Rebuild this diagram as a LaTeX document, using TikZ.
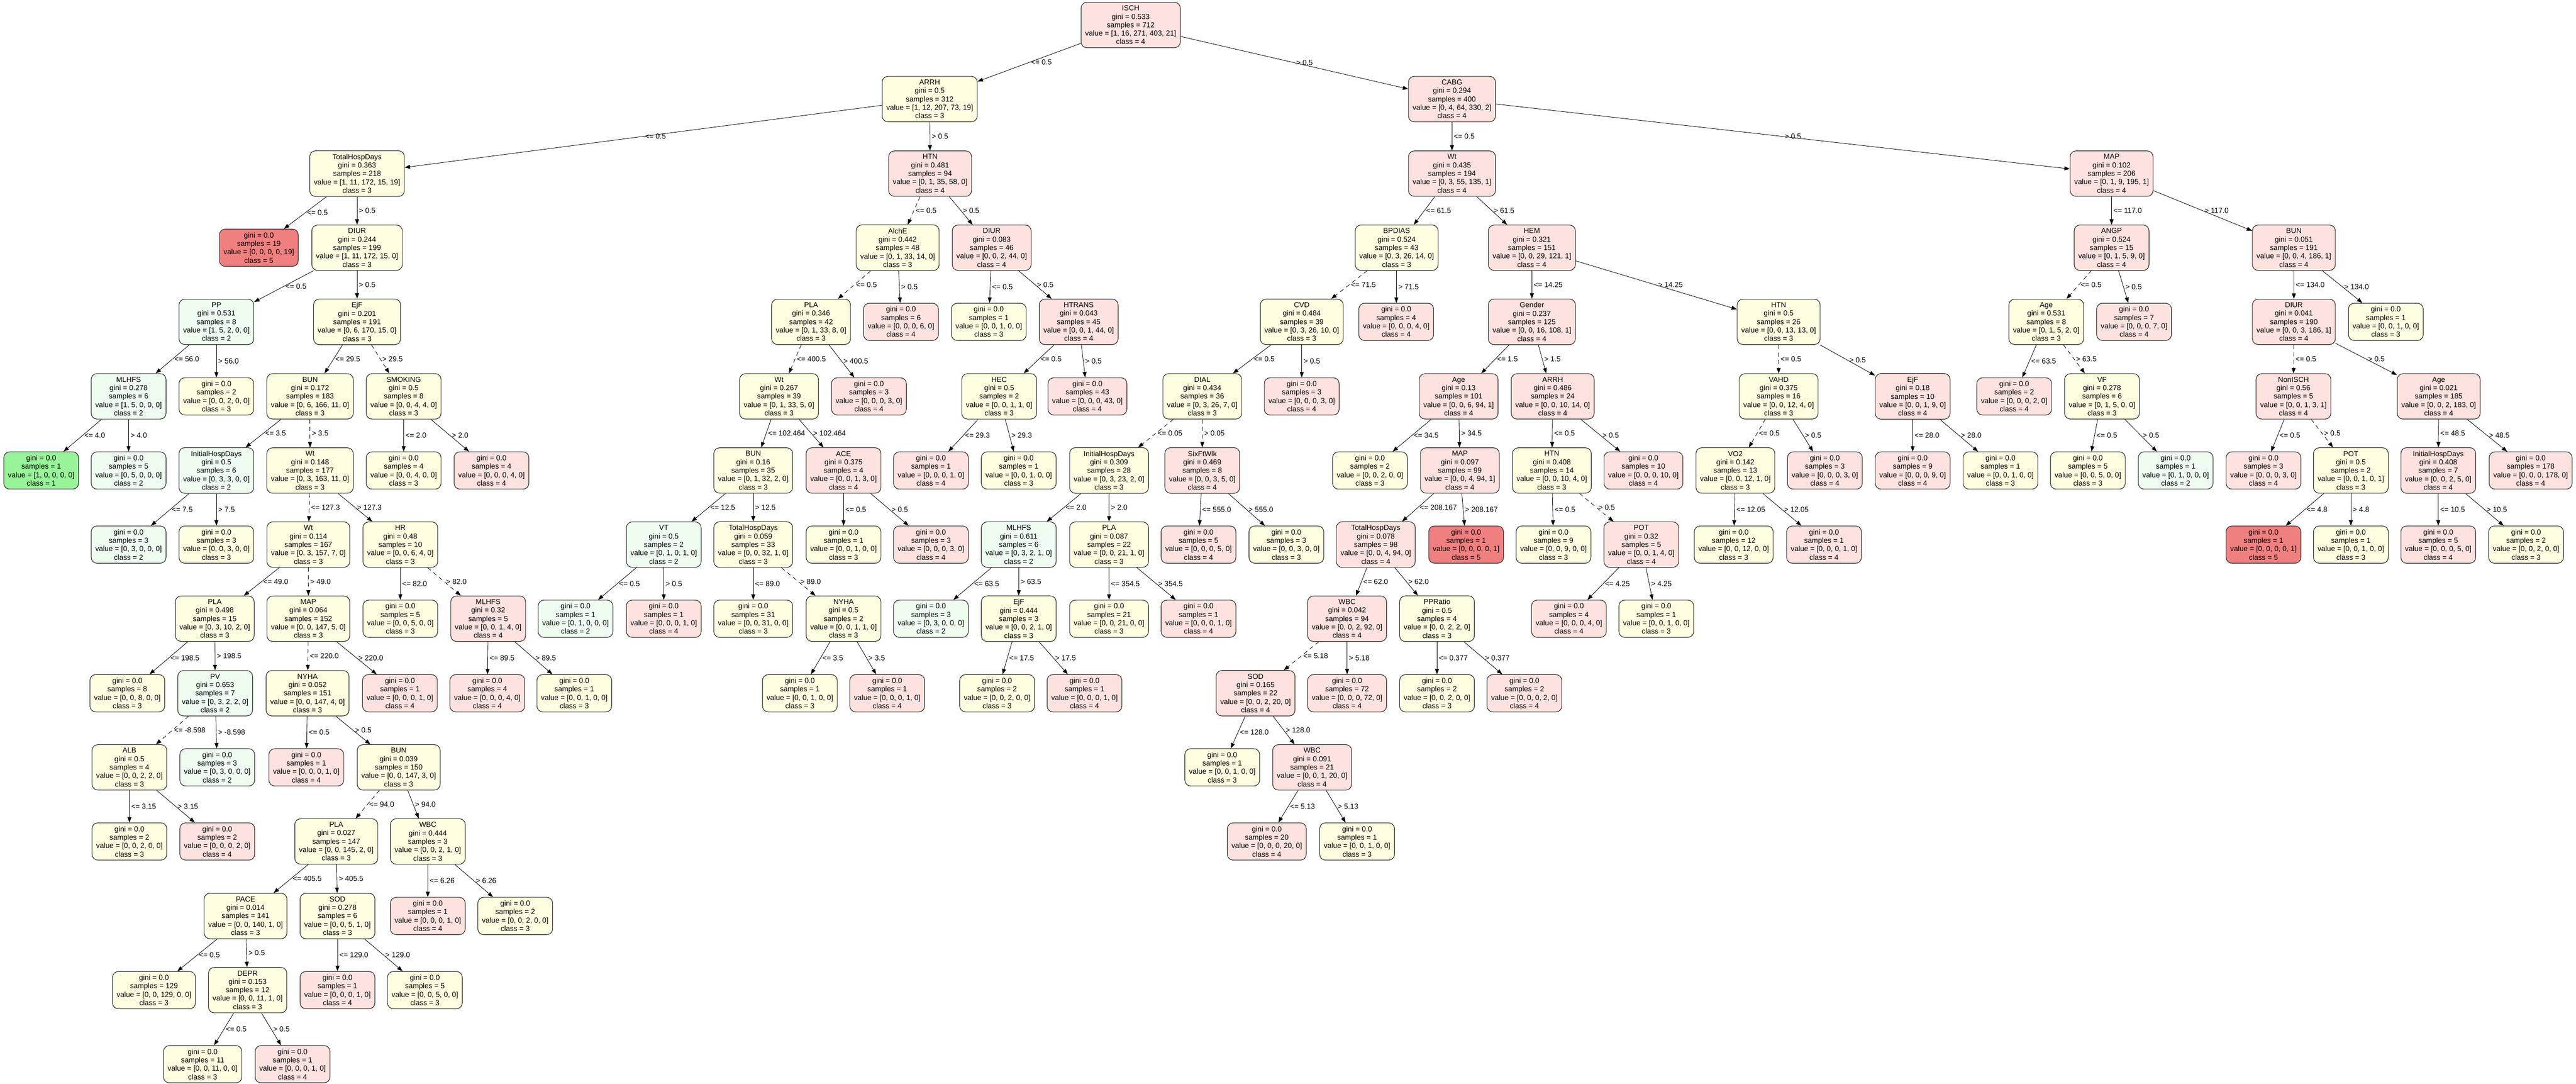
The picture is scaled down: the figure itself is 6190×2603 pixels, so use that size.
\documentclass[tikz,border=0pt]{standalone}
\usepackage{fontspec}
\newfontfamily\treefont{Liberation Sans}
\usetikzlibrary{arrows.meta}
\definecolor{clsone}{RGB}{152,244,152}
\definecolor{clstwo}{RGB}{239,253,240}
\definecolor{clsthree}{RGB}{254,254,224}
\definecolor{clsfour}{RGB}{253,226,223}
\definecolor{clsfive}{RGB}{240,128,128}

\begin{document}
\begin{tikzpicture}[x=0.2mm, y=-0.2mm,
    tnode/.style={draw=black!85, line width=0.8pt, rounded corners=2.8mm, align=center,
        inner xsep=2mm, inner ysep=1.6mm, font=\treefont\fontsize{10pt}{11.5pt}\selectfont},
    cls1/.style={tnode, fill=clsone},
    cls2/.style={tnode, fill=clstwo},
    cls3/.style={tnode, fill=clsthree},
    cls4/.style={tnode, fill=clsfour},
    cls5/.style={tnode, fill=clsfive},
    link/.style={-{Triangle[length=2.6mm,width=1.9mm]}, line width=0.6pt},
    lbl/.style={midway, anchor=west, inner sep=0.8mm, font=\treefont\fontsize{10pt}{12pt}\selectfont}]
    \useasboundingbox (0,0) rectangle (6190,2603);

    % level 0
    \node[cls4] (isch) at (2717,60) {ISCH\\gini = 0.533\\samples = 712\\value = [1, 16, 271, 403, 21]\\class = 4};
    % level 1
    \node[cls3] (arrh) at (2234,238) {ARRH\\gini = 0.5\\samples = 312\\value = [1, 12, 207, 73, 19]\\class = 3};
    \node[cls4] (cabg) at (3489,238) {CABG\\gini = 0.294\\samples = 400\\value = [0, 4, 64, 330, 2]\\class = 4};
    % level 2
    \node[cls3] (thd) at (858,417) {TotalHospDays\\gini = 0.363\\samples = 218\\value = [1, 11, 172, 15, 19]\\class = 3};
    \node[cls4] (htn) at (2235,417) {HTN\\gini = 0.481\\samples = 94\\value = [0, 1, 35, 58, 0]\\class = 4};
    \node[cls4] (wtA) at (3489,417) {Wt\\gini = 0.435\\samples = 194\\value = [0, 3, 55, 135, 1]\\class = 4};
    \node[cls4] (map) at (5074,417) {MAP\\gini = 0.102\\samples = 206\\value = [0, 1, 9, 195, 1]\\class = 4};
    % level 3
    \node[cls5] (l3a) at (622,595) {gini = 0.0\\samples = 19\\value = [0, 0, 0, 0, 19]\\class = 5};
    \node[cls3] (diur) at (858,595) {DIUR\\gini = 0.244\\samples = 199\\value = [1, 11, 172, 15, 0]\\class = 3};
    \node[cls3] (alche) at (2157,595) {AlchE\\gini = 0.442\\samples = 48\\value = [0, 1, 33, 14, 0]\\class = 3};
    \node[cls4] (diurB) at (2383,595) {DIUR\\gini = 0.083\\samples = 46\\value = [0, 0, 2, 44, 0]\\class = 4};
    \node[cls3] (bpdias) at (3356,595) {BPDIAS\\gini = 0.524\\samples = 43\\value = [0, 3, 26, 14, 0]\\class = 3};
    \node[cls4] (hem) at (3681,595) {HEM\\gini = 0.321\\samples = 151\\value = [0, 0, 29, 121, 1]\\class = 4};
    \node[cls4] (angp) at (5074,595) {ANGP\\gini = 0.524\\samples = 15\\value = [0, 1, 5, 9, 0]\\class = 4};
    \node[cls4] (bun) at (5512,595) {BUN\\gini = 0.051\\samples = 191\\value = [0, 0, 4, 186, 1]\\class = 4};
    % level 4
    \node[cls2] (pp) at (520,773) {PP\\gini = 0.531\\samples = 8\\value = [1, 5, 2, 0, 0]\\class = 2};
    \node[cls3] (ejf) at (858,773) {EjF\\gini = 0.201\\samples = 191\\value = [0, 6, 170, 15, 0]\\class = 3};
    \node[cls3] (pla) at (1949,773) {PLA\\gini = 0.346\\samples = 42\\value = [0, 1, 33, 8, 0]\\class = 3};
    \node[cls4] (l4a) at (2165,773) {gini = 0.0\\samples = 6\\value = [0, 0, 0, 6, 0]\\class = 4};
    \node[cls3] (l4b) at (2376,773) {gini = 0.0\\samples = 1\\value = [0, 0, 1, 0, 0]\\class = 3};
    \node[cls4] (htrans) at (2592,773) {HTRANS\\gini = 0.043\\samples = 45\\value = [0, 0, 1, 44, 0]\\class = 4};
    \node[cls3] (cvd) at (3128,773) {CVD\\gini = 0.484\\samples = 39\\value = [0, 3, 26, 10, 0]\\class = 3};
    \node[cls4] (l4c) at (3355,773) {gini = 0.0\\samples = 4\\value = [0, 0, 0, 4, 0]\\class = 4};
    \node[cls4] (gender) at (3681,773) {Gender\\gini = 0.237\\samples = 125\\value = [0, 0, 16, 108, 1]\\class = 4};
    \node[cls3] (htnB) at (4274,773) {HTN\\gini = 0.5\\samples = 26\\value = [0, 0, 13, 13, 0]\\class = 3};
    \node[cls3] (ageA) at (4917,773) {Age\\gini = 0.531\\samples = 8\\value = [0, 1, 5, 2, 0]\\class = 3};
    \node[cls4] (l4d) at (5128,773) {gini = 0.0\\samples = 7\\value = [0, 0, 0, 7, 0]\\class = 4};
    \node[cls4] (diurC) at (5512,773) {DIUR\\gini = 0.041\\samples = 190\\value = [0, 0, 3, 186, 1]\\class = 4};
    \node[cls3] (l4e) at (5733,773) {gini = 0.0\\samples = 1\\value = [0, 0, 1, 0, 0]\\class = 3};
    % level 5
    \node[cls2] (mlhfs) at (309,952) {MLHFS\\gini = 0.278\\samples = 6\\value = [1, 5, 0, 0, 0]\\class = 2};
    \node[cls3] (l5a) at (520,952) {gini = 0.0\\samples = 2\\value = [0, 0, 2, 0, 0]\\class = 3};
    \node[cls3] (bunA) at (745,952) {BUN\\gini = 0.172\\samples = 183\\value = [0, 6, 166, 11, 0]\\class = 3};
    \node[cls3] (smoking) at (970,952) {SMOKING\\gini = 0.5\\samples = 8\\value = [0, 0, 4, 4, 0]\\class = 3};
    \node[cls3] (wtB) at (1872,952) {Wt\\gini = 0.267\\samples = 39\\value = [0, 1, 33, 5, 0]\\class = 3};
    \node[cls4] (l5b) at (2088,952) {gini = 0.0\\samples = 3\\value = [0, 0, 0, 3, 0]\\class = 4};
    \node[cls3] (hec) at (2401,952) {HEC\\gini = 0.5\\samples = 2\\value = [0, 0, 1, 1, 0]\\class = 3};
    \node[cls4] (l5c) at (2613,952) {gini = 0.0\\samples = 43\\value = [0, 0, 0, 43, 0]\\class = 4};
    \node[cls3] (dial) at (2889,952) {DIAL\\gini = 0.434\\samples = 36\\value = [0, 3, 26, 7, 0]\\class = 3};
    \node[cls4] (l5d) at (3128,952) {gini = 0.0\\samples = 3\\value = [0, 0, 0, 3, 0]\\class = 4};
    \node[cls4] (ageB) at (3505,952) {Age\\gini = 0.13\\samples = 101\\value = [0, 0, 6, 94, 1]\\class = 4};
    \node[cls4] (arrhB) at (3731,952) {ARRH\\gini = 0.486\\samples = 24\\value = [0, 0, 10, 14, 0]\\class = 4};
    \node[cls3] (vahd) at (4274,952) {VAHD\\gini = 0.375\\samples = 16\\value = [0, 0, 12, 4, 0]\\class = 3};
    \node[cls4] (ejfB) at (4596,952) {EjF\\gini = 0.18\\samples = 10\\value = [0, 0, 1, 9, 0]\\class = 4};
    \node[cls4] (l5e) at (4840,952) {gini = 0.0\\samples = 2\\value = [0, 0, 0, 2, 0]\\class = 4};
    \node[cls3] (vf) at (5051,952) {VF\\gini = 0.278\\samples = 6\\value = [0, 1, 5, 0, 0]\\class = 3};
    \node[cls4] (nonisch) at (5511,952) {NonISCH\\gini = 0.56\\samples = 5\\value = [0, 0, 1, 3, 1]\\class = 4};
    \node[cls4] (ageC) at (5860,952) {Age\\gini = 0.021\\samples = 185\\value = [0, 0, 2, 183, 0]\\class = 4};
    % level 6
    \node[cls1] (l6a) at (99,1130) {gini = 0.0\\samples = 1\\value = [1, 0, 0, 0, 0]\\class = 1};
    \node[cls2] (l6b) at (309,1130) {gini = 0.0\\samples = 5\\value = [0, 5, 0, 0, 0]\\class = 2};
    \node[cls2] (ihd) at (520,1130) {InitialHospDays\\gini = 0.5\\samples = 6\\value = [0, 3, 3, 0, 0]\\class = 2};
    \node[cls3] (wtC) at (745,1130) {Wt\\gini = 0.148\\samples = 177\\value = [0, 3, 163, 11, 0]\\class = 3};
    \node[cls3] (l6c) at (970,1130) {gini = 0.0\\samples = 4\\value = [0, 0, 4, 0, 0]\\class = 3};
    \node[cls4] (l6d) at (1181,1130) {gini = 0.0\\samples = 4\\value = [0, 0, 0, 4, 0]\\class = 4};
    \node[cls3] (bunB) at (1810,1130) {BUN\\gini = 0.16\\samples = 35\\value = [0, 1, 32, 2, 0]\\class = 3};
    \node[cls4] (ace) at (2027,1130) {ACE\\gini = 0.375\\samples = 4\\value = [0, 0, 1, 3, 0]\\class = 4};
    \node[cls4] (l6e) at (2237,1130) {gini = 0.0\\samples = 1\\value = [0, 0, 0, 1, 0]\\class = 4};
    \node[cls3] (l6f) at (2448,1130) {gini = 0.0\\samples = 1\\value = [0, 0, 1, 0, 0]\\class = 3};
    \node[cls3] (ihdB) at (2665,1130) {InitialHospDays\\gini = 0.309\\samples = 28\\value = [0, 3, 23, 2, 0]\\class = 3};
    \node[cls4] (sixft) at (2889,1130) {SixFtWlk\\gini = 0.469\\samples = 8\\value = [0, 0, 3, 5, 0]\\class = 4};
    \node[cls3] (l6g) at (3292,1130) {gini = 0.0\\samples = 2\\value = [0, 0, 2, 0, 0]\\class = 3};
    \node[cls4] (mapB) at (3508,1130) {MAP\\gini = 0.097\\samples = 99\\value = [0, 0, 4, 94, 1]\\class = 4};
    \node[cls3] (htnC) at (3729,1130) {HTN\\gini = 0.408\\samples = 14\\value = [0, 0, 10, 4, 0]\\class = 3};
    \node[cls4] (l6h) at (3949,1130) {gini = 0.0\\samples = 10\\value = [0, 0, 0, 10, 0]\\class = 4};
    \node[cls3] (vo2) at (4170,1130) {VO2\\gini = 0.142\\samples = 13\\value = [0, 0, 12, 1, 0]\\class = 3};
    \node[cls4] (l6i) at (4385,1130) {gini = 0.0\\samples = 3\\value = [0, 0, 0, 3, 0]\\class = 4};
    \node[cls4] (l6j) at (4596,1130) {gini = 0.0\\samples = 9\\value = [0, 0, 0, 9, 0]\\class = 4};
    \node[cls3] (l6k) at (4807,1130) {gini = 0.0\\samples = 1\\value = [0, 0, 1, 0, 0]\\class = 3};
    \node[cls3] (l6l) at (5017,1130) {gini = 0.0\\samples = 5\\value = [0, 0, 5, 0, 0]\\class = 3};
    \node[cls2] (l6m) at (5228,1130) {gini = 0.0\\samples = 1\\value = [0, 1, 0, 0, 0]\\class = 2};
    \node[cls4] (l6n) at (5439,1130) {gini = 0.0\\samples = 3\\value = [0, 0, 0, 3, 0]\\class = 4};
    \node[cls3] (potB) at (5649,1130) {POT\\gini = 0.5\\samples = 2\\value = [0, 0, 1, 0, 1]\\class = 3};
    \node[cls4] (ihdC) at (5859,1130) {InitialHospDays\\gini = 0.408\\samples = 7\\value = [0, 0, 2, 5, 0]\\class = 4};
    \node[cls4] (l6o) at (6081,1130) {gini = 0.0\\samples = 178\\value = [0, 0, 0, 178, 0]\\class = 4};
    % level 7
    \node[cls2] (l7a) at (309,1308) {gini = 0.0\\samples = 3\\value = [0, 3, 0, 0, 0]\\class = 2};
    \node[cls3] (l7b) at (520,1308) {gini = 0.0\\samples = 3\\value = [0, 0, 3, 0, 0]\\class = 3};
    \node[cls3] (wtD) at (741,1308) {Wt\\gini = 0.114\\samples = 167\\value = [0, 3, 157, 7, 0]\\class = 3};
    \node[cls3] (hr) at (962,1308) {HR\\gini = 0.48\\samples = 10\\value = [0, 0, 6, 4, 0]\\class = 3};
    \node[cls2] (vt) at (1595,1308) {VT\\gini = 0.5\\samples = 2\\value = [0, 1, 0, 1, 0]\\class = 2};
    \node[cls3] (thdB) at (1810,1308) {TotalHospDays\\gini = 0.059\\samples = 33\\value = [0, 0, 32, 1, 0]\\class = 3};
    \node[cls3] (l7c) at (2027,1308) {gini = 0.0\\samples = 1\\value = [0, 0, 1, 0, 0]\\class = 3};
    \node[cls4] (l7d) at (2237,1308) {gini = 0.0\\samples = 3\\value = [0, 0, 0, 3, 0]\\class = 4};
    \node[cls2] (mlhfsB) at (2448,1308) {MLHFS\\gini = 0.611\\samples = 6\\value = [0, 3, 2, 1, 0]\\class = 2};
    \node[cls3] (plaB) at (2665,1308) {PLA\\gini = 0.087\\samples = 22\\value = [0, 0, 21, 1, 0]\\class = 3};
    \node[cls4] (l7e) at (2880,1308) {gini = 0.0\\samples = 5\\value = [0, 0, 0, 5, 0]\\class = 4};
    \node[cls3] (l7f) at (3091,1308) {gini = 0.0\\samples = 3\\value = [0, 0, 3, 0, 0]\\class = 3};
    \node[cls4] (thdC) at (3306,1308) {TotalHospDays\\gini = 0.078\\samples = 98\\value = [0, 0, 4, 94, 0]\\class = 4};
    \node[cls5] (l7g) at (3523,1308) {gini = 0.0\\samples = 1\\value = [0, 0, 0, 0, 1]\\class = 5};
    \node[cls3] (l7h) at (3733,1308) {gini = 0.0\\samples = 9\\value = [0, 0, 9, 0, 0]\\class = 3};
    \node[cls4] (pot) at (3944,1308) {POT\\gini = 0.32\\samples = 5\\value = [0, 0, 1, 4, 0]\\class = 4};
    \node[cls3] (l7i) at (4166,1308) {gini = 0.0\\samples = 12\\value = [0, 0, 12, 0, 0]\\class = 3};
    \node[cls4] (l7j) at (4383,1308) {gini = 0.0\\samples = 1\\value = [0, 0, 0, 1, 0]\\class = 4};
    \node[cls5] (l7k) at (5439,1308) {gini = 0.0\\samples = 1\\value = [0, 0, 0, 0, 1]\\class = 5};
    \node[cls3] (l7l) at (5649,1308) {gini = 0.0\\samples = 1\\value = [0, 0, 1, 0, 0]\\class = 3};
    \node[cls4] (l7m) at (5859,1308) {gini = 0.0\\samples = 5\\value = [0, 0, 0, 5, 0]\\class = 4};
    \node[cls3] (l7n) at (6070,1308) {gini = 0.0\\samples = 2\\value = [0, 0, 2, 0, 0]\\class = 3};
    % level 8
    \node[cls3] (plaC) at (516,1486) {PLA\\gini = 0.498\\samples = 15\\value = [0, 3, 10, 2, 0]\\class = 3};
    \node[cls3] (mapC) at (741,1486) {MAP\\gini = 0.064\\samples = 152\\value = [0, 0, 147, 5, 0]\\class = 3};
    \node[cls3] (l8a) at (962,1486) {gini = 0.0\\samples = 5\\value = [0, 0, 5, 0, 0]\\class = 3};
    \node[cls4] (mlhfsC) at (1173,1486) {MLHFS\\gini = 0.32\\samples = 5\\value = [0, 0, 1, 4, 0]\\class = 4};
    \node[cls2] (l8b) at (1383,1486) {gini = 0.0\\samples = 1\\value = [0, 1, 0, 0, 0]\\class = 2};
    \node[cls4] (l8c) at (1595,1486) {gini = 0.0\\samples = 1\\value = [0, 0, 0, 1, 0]\\class = 4};
    \node[cls3] (l8d) at (1810,1486) {gini = 0.0\\samples = 31\\value = [0, 0, 31, 0, 0]\\class = 3};
    \node[cls3] (nyha) at (2027,1486) {NYHA\\gini = 0.5\\samples = 2\\value = [0, 0, 1, 1, 0]\\class = 3};
    \node[cls2] (l8e) at (2237,1486) {gini = 0.0\\samples = 3\\value = [0, 3, 0, 0, 0]\\class = 2};
    \node[cls3] (ejfC) at (2448,1486) {EjF\\gini = 0.444\\samples = 3\\value = [0, 0, 2, 1, 0]\\class = 3};
    \node[cls3] (l8f) at (2665,1486) {gini = 0.0\\samples = 21\\value = [0, 0, 21, 0, 0]\\class = 3};
    \node[cls4] (l8g) at (2880,1486) {gini = 0.0\\samples = 1\\value = [0, 0, 0, 1, 0]\\class = 4};
    \node[cls4] (wbc) at (3237,1486) {WBC\\gini = 0.042\\samples = 94\\value = [0, 0, 2, 92, 0]\\class = 4};
    \node[cls3] (ppratio) at (3453,1486) {PPRatio\\gini = 0.5\\samples = 4\\value = [0, 0, 2, 2, 0]\\class = 3};
    \node[cls4] (l8h) at (3770,1486) {gini = 0.0\\samples = 4\\value = [0, 0, 0, 4, 0]\\class = 4};
    \node[cls3] (l8i) at (3980,1486) {gini = 0.0\\samples = 1\\value = [0, 0, 1, 0, 0]\\class = 3};
    % level 9
    \node[cls3] (l9a) at (306,1665) {gini = 0.0\\samples = 8\\value = [0, 0, 8, 0, 0]\\class = 3};
    \node[cls2] (pv) at (517,1665) {PV\\gini = 0.653\\samples = 7\\value = [0, 3, 2, 2, 0]\\class = 2};
    \node[cls3] (nyhaB) at (739,1665) {NYHA\\gini = 0.052\\samples = 151\\value = [0, 0, 147, 4, 0]\\class = 3};
    \node[cls4] (l9b) at (961,1665) {gini = 0.0\\samples = 1\\value = [0, 0, 0, 1, 0]\\class = 4};
    \node[cls4] (l9c) at (1171,1665) {gini = 0.0\\samples = 4\\value = [0, 0, 0, 4, 0]\\class = 4};
    \node[cls3] (l9d) at (1380,1665) {gini = 0.0\\samples = 1\\value = [0, 0, 1, 0, 0]\\class = 3};
    \node[cls3] (l9e) at (1922,1665) {gini = 0.0\\samples = 1\\value = [0, 0, 1, 0, 0]\\class = 3};
    \node[cls4] (l9f) at (2132,1665) {gini = 0.0\\samples = 1\\value = [0, 0, 0, 1, 0]\\class = 4};
    \node[cls3] (l9g) at (2396,1665) {gini = 0.0\\samples = 2\\value = [0, 0, 2, 0, 0]\\class = 3};
    \node[cls4] (l9h) at (2606,1665) {gini = 0.0\\samples = 1\\value = [0, 0, 0, 1, 0]\\class = 4};
    \node[cls4] (sod) at (3017,1665) {SOD\\gini = 0.165\\samples = 22\\value = [0, 0, 2, 20, 0]\\class = 4};
    \node[cls4] (l9i) at (3237,1665) {gini = 0.0\\samples = 72\\value = [0, 0, 0, 72, 0]\\class = 4};
    \node[cls3] (l9j) at (3453,1665) {gini = 0.0\\samples = 2\\value = [0, 0, 2, 0, 0]\\class = 3};
    \node[cls4] (l9k) at (3663,1665) {gini = 0.0\\samples = 2\\value = [0, 0, 0, 2, 0]\\class = 4};
    % level 10
    \node[cls3] (alb) at (311,1843) {ALB\\gini = 0.5\\samples = 4\\value = [0, 0, 2, 2, 0]\\class = 3};
    \node[cls2] (l10a) at (522,1843) {gini = 0.0\\samples = 3\\value = [0, 3, 0, 0, 0]\\class = 2};
    \node[cls4] (l10b) at (736,1843) {gini = 0.0\\samples = 1\\value = [0, 0, 0, 1, 0]\\class = 4};
    \node[cls3] (bunC) at (958,1843) {BUN\\gini = 0.039\\samples = 150\\value = [0, 0, 147, 3, 0]\\class = 3};
    \node[cls3] (l10c) at (2937,1843) {gini = 0.0\\samples = 1\\value = [0, 0, 1, 0, 0]\\class = 3};
    \node[cls4] (wbcB) at (3153,1843) {WBC\\gini = 0.091\\samples = 21\\value = [0, 0, 1, 20, 0]\\class = 4};
    % level 11
    \node[cls3] (l11a) at (311,2021) {gini = 0.0\\samples = 2\\value = [0, 0, 2, 0, 0]\\class = 3};
    \node[cls4] (l11b) at (522,2021) {gini = 0.0\\samples = 2\\value = [0, 0, 0, 2, 0]\\class = 4};
    \node[cls3] (plaD) at (808,2021) {PLA\\gini = 0.027\\samples = 147\\value = [0, 0, 145, 2, 0]\\class = 3};
    \node[cls3] (wbcC) at (1028,2021) {WBC\\gini = 0.444\\samples = 3\\value = [0, 0, 2, 1, 0]\\class = 3};
    \node[cls4] (l11c) at (3044,2021) {gini = 0.0\\samples = 20\\value = [0, 0, 0, 20, 0]\\class = 4};
    \node[cls3] (l11d) at (3261,2021) {gini = 0.0\\samples = 1\\value = [0, 0, 1, 0, 0]\\class = 3};
    % level 12
    \node[cls3] (pace) at (590,2200) {PACE\\gini = 0.014\\samples = 141\\value = [0, 0, 140, 1, 0]\\class = 3};
    \node[cls3] (sodB) at (811,2200) {SOD\\gini = 0.278\\samples = 6\\value = [0, 0, 5, 1, 0]\\class = 3};
    \node[cls4] (l12a) at (1028,2200) {gini = 0.0\\samples = 1\\value = [0, 0, 0, 1, 0]\\class = 4};
    \node[cls3] (l12b) at (1238,2200) {gini = 0.0\\samples = 2\\value = [0, 0, 2, 0, 0]\\class = 3};
    % level 13
    \node[cls3] (l13a) at (370,2378) {gini = 0.0\\samples = 129\\value = [0, 0, 129, 0, 0]\\class = 3};
    \node[cls3] (depr) at (595,2378) {DEPR\\gini = 0.153\\samples = 12\\value = [0, 0, 11, 1, 0]\\class = 3};
    \node[cls4] (l13b) at (811,2378) {gini = 0.0\\samples = 1\\value = [0, 0, 0, 1, 0]\\class = 4};
    \node[cls3] (l13c) at (1021,2378) {gini = 0.0\\samples = 5\\value = [0, 0, 5, 0, 0]\\class = 3};
    % level 14
    \node[cls3] (l14a) at (487,2556) {gini = 0.0\\samples = 11\\value = [0, 0, 11, 0, 0]\\class = 3};
    \node[cls4] (l14b) at (703,2556) {gini = 0.0\\samples = 1\\value = [0, 0, 0, 1, 0]\\class = 4};

    % solid splits
    \foreach \src/\dst/\lab in {isch/arrh/<= 0.5, isch/cabg/> 0.5,
        arrh/thd/<= 0.5, arrh/htn/> 0.5, thd/l3a/<= 0.5, thd/diur/> 0.5,
        diur/pp/<= 0.5, diur/ejf/> 0.5, pp/mlhfs/<= 56.0, pp/l5a/> 56.0,
        ejf/bunA/<= 29.5, mlhfs/l6a/<= 4.0, mlhfs/l6b/> 4.0, bunA/ihd/<= 3.5,
        smoking/l6c/<= 2.0, smoking/l6d/> 2.0, ihd/l7a/<= 7.5, ihd/l7b/> 7.5,
        wtC/hr/> 127.3, wtD/plaC/<= 49.0, hr/l8a/<= 82.0,
        plaC/l9a/<= 198.5, plaC/pv/> 198.5, mapC/l9b/> 220.0,
        mlhfsC/l9c/<= 89.5, mlhfsC/l9d/> 89.5, pv/l10a/> -8.598,
        nyhaB/l10b/<= 0.5, nyhaB/bunC/> 0.5, alb/l11a/<= 3.15, alb/l11b/> 3.15,
        bunC/wbcC/> 94.0, plaD/pace/<= 405.5, plaD/sodB/> 405.5,
        wbcC/l12a/<= 6.26, wbcC/l12b/> 6.26, pace/l13a/<= 0.5, pace/depr/> 0.5,
        sodB/l13b/<= 129.0, sodB/l13c/> 129.0, depr/l14a/<= 0.5, depr/l14b/> 0.5,
        htn/diurB/> 0.5, alche/l4a/> 0.5, diurB/l4b/<= 0.5, diurB/htrans/> 0.5,
        pla/l5b/> 400.5, htrans/hec/<= 0.5, htrans/l5c/> 0.5,
        wtB/bunB/<= 102.464, wtB/ace/> 102.464, hec/l6e/<= 29.3, hec/l6f/> 29.3,
        bunB/vt/<= 12.5, bunB/thdB/> 12.5, ace/l7c/<= 0.5, ace/l7d/> 0.5,
        vt/l8b/<= 0.5, vt/l8c/> 0.5, thdB/l8d/<= 89.0, nyha/l9e/<= 3.5, nyha/l9f/> 3.5,
        cabg/wtA/<= 0.5, cabg/map/> 0.5, wtA/bpdias/<= 61.5, wtA/hem/> 61.5,
        bpdias/l4c/> 71.5, hem/gender/<= 14.25, hem/htnB/> 14.25,
        cvd/dial/<= 0.5, cvd/l5d/> 0.5, gender/ageB/<= 1.5, gender/arrhB/> 1.5,
        htnB/ejfB/> 0.5, ageB/l6g/<= 34.5, ageB/mapB/> 34.5,
        arrhB/htnC/<= 0.5, arrhB/l6h/> 0.5, vahd/l6i/> 0.5,
        ejfB/l6j/<= 28.0, ejfB/l6k/> 28.0, ihdB/mlhfsB/<= 2.0, ihdB/plaB/> 2.0,
        sixft/l7e/<= 555.0, sixft/l7f/> 555.0, mapB/thdC/<= 208.167, mapB/l7g/> 208.167,
        htnC/l7h/<= 0.5, vo2/l7i/<= 12.05, vo2/l7j/> 12.05,
        mlhfsB/l8e/<= 63.5, mlhfsB/ejfC/> 63.5, plaB/l8f/<= 354.5, plaB/l8g/> 354.5,
        thdC/wbc/<= 62.0, thdC/ppratio/> 62.0, pot/l8h/<= 4.25, pot/l8i/> 4.25,
        ejfC/l9g/<= 17.5, ejfC/l9h/> 17.5, wbc/l9i/> 5.18,
        ppratio/l9j/<= 0.377, ppratio/l9k/> 0.377, sod/l10c/<= 128.0, sod/wbcB/> 128.0,
        wbcB/l11c/<= 5.13, wbcB/l11d/> 5.13,
        map/angp/<= 117.0, map/bun/> 117.0, angp/l4d/> 0.5,
        bun/diurC/<= 134.0, bun/l4e/> 134.0, ageA/l5e/<= 63.5, diurC/ageC/> 0.5,
        vf/l6l/<= 0.5, vf/l6m/> 0.5, nonisch/l6n/<= 0.5,
        ageC/ihdC/<= 48.5, ageC/l6o/> 48.5, potB/l7k/<= 4.8, potB/l7l/> 4.8,
        ihdC/l7m/<= 10.5, ihdC/l7n/> 10.5}
        \draw[link] (\src) -- node[lbl] {\lab} (\dst);

    % dashed splits
    \foreach \src/\dst/\lab in {ejf/smoking/> 29.5, bunA/wtC/> 3.5, wtC/wtD/<= 127.3,
        wtD/mapC/> 49.0, hr/mlhfsC/> 82.0, mapC/nyhaB/<= 220.0, pv/alb/<= -8.598,
        bunC/plaD/<= 94.0, htn/alche/<= 0.5, alche/pla/<= 0.5, pla/wtB/<= 400.5,
        thdB/nyha/> 89.0, bpdias/cvd/<= 71.5, htnB/vahd/<= 0.5,
        dial/ihdB/<= 0.05, dial/sixft/> 0.05, htnC/pot/> 0.5, vahd/vo2/<= 0.5,
        wbc/sod/<= 5.18, angp/ageA/<= 0.5, ageA/vf/> 63.5,
        diurC/nonisch/<= 0.5, nonisch/potB/> 0.5}
        \draw[link, dash pattern=on 2mm off 1.6mm] (\src) -- node[lbl] {\lab} (\dst);
\end{tikzpicture}
\end{document}
